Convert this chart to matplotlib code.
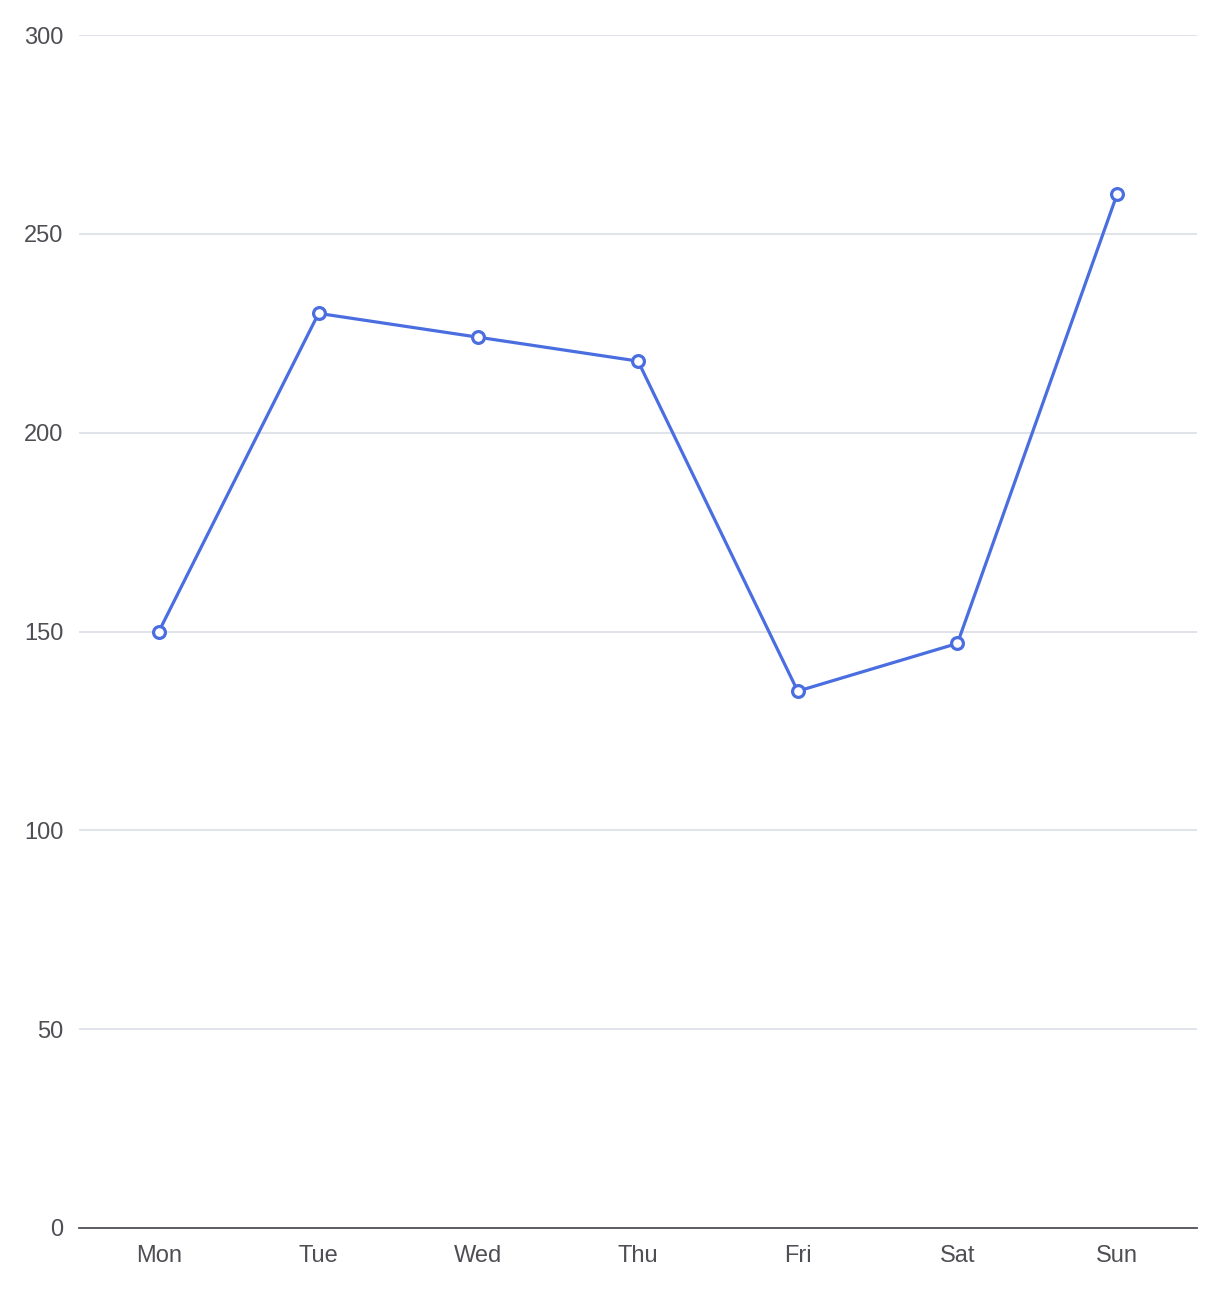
import matplotlib.pyplot as plt

plt.rcParams['font.family'] = ['Liberation Sans', 'DejaVu Sans']

days = ['Mon', 'Tue', 'Wed', 'Thu', 'Fri', 'Sat', 'Sun']
values = [150, 230, 224, 218, 135, 147, 260]
y_ticks = [0, 50, 100, 150, 200, 250, 300]

line_color = '#4a6ee0'
grid_color = '#dcdee6'
text_color = '#4e4e54'

fig = plt.figure(figsize=(12.22, 12.89), dpi=100)
ax = fig.add_axes([79 / 1222, 61 / 1289, 1118 / 1222, 1193 / 1289])

x = range(len(days))
ax.plot(x, values, color=line_color, linewidth=2.3, marker='o', markersize=8.5,
        markerfacecolor='white', markeredgecolor=line_color, markeredgewidth=2.3,
        zorder=3)

ax.set_xlim(-0.5, len(days) - 0.5)
ax.set_ylim(0, 300)
ax.set_xticks(list(x))
ax.set_xticklabels(days)
ax.set_yticks(y_ticks)
ax.set_yticklabels([str(v) for v in y_ticks])

ax.grid(axis='y', color=grid_color, linewidth=1.2)
ax.set_axisbelow(True)
for side in ['top', 'right', 'left']:
    ax.spines[side].set_visible(False)
ax.spines['bottom'].set_color('#505056')
ax.spines['bottom'].set_linewidth(1.3)

ax.tick_params(axis='y', length=0, pad=11, labelsize=17, labelcolor=text_color)
ax.tick_params(axis='x', length=0, pad=12, labelsize=17, labelcolor=text_color)

fig.savefig('out.png', dpi=100, facecolor='white')
